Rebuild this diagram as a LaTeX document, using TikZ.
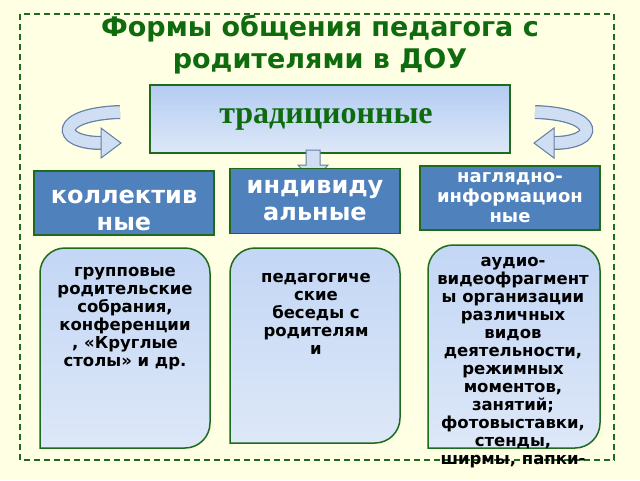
\documentclass[tikz,border=0pt]{standalone}
\usepackage{fontspec}
\setmainfont{DejaVu Sans}
\newfontfamily\serifb{Liberation Serif}
\usetikzlibrary{positioning}
\definecolor{bg}{HTML}{FFFFE3}
\definecolor{dgreen}{HTML}{1E6B1E}
\definecolor{tgreen}{HTML}{0E6B0E}
\definecolor{sblue}{HTML}{4F81BD}
\definecolor{lblue}{HTML}{B4CCF2}
\definecolor{pblue}{HTML}{DDE8F8}
\begin{document}
\begin{tikzpicture}[
    x=1pt, y=-1pt,
    topbox/.style={
        draw=dgreen, line width=1.5pt,
        top color=lblue, bottom color=pblue
    },
    catbox/.style={
        rectangle, draw=dgreen, line width=1.5pt, fill=sblue,
        text=white, font=\bfseries\fontsize{24}{27}\selectfont,
        align=center, inner sep=0pt
    },
    card/.style={
        draw=dgreen, line width=1.5pt,
        top color=lblue!80, bottom color=pblue
    },
    cardtext/.style={
        anchor=north, align=center,
        font=\bfseries\fontsize{16.5}{18}\selectfont
    },
    turnout/.style={line width=14pt, draw=sblue!60!gray, line cap=butt},
    turnin/.style={line width=11.5pt, draw=pblue!90!sblue, line cap=butt},
    arrhead/.style={draw=sblue!60!gray, line width=1pt, fill=pblue!90!sblue}
]
    % background and frame
    \fill[bg] (0,0) rectangle (640,480);
    \useasboundingbox (0,0) rectangle (640,480);
    \draw[dgreen, line width=1.5pt, dash pattern=on 6pt off 4pt] (20,14) rectangle (614,460);

    % title
    \node[text=tgreen, font=\bfseries\fontsize{27}{32}\selectfont, align=center]
        (title) at (320,45) {Формы общения педагога с\\родителями в ДОУ};

    % traditional forms
    \draw[topbox] (150,85) rectangle (510,153);
    \node[text=tgreen, font=\serifb\bfseries\fontsize{32}{34}\selectfont]
        (trad) at (326,119) {традиционные};

    % turning arrows
    \draw[turnout] (120,112) .. controls (55,114) and (55,143) .. (102,143);
    \draw[turnin] (120,112) .. controls (55,114) and (55,143) .. (102,143);
    \draw[arrhead] (101,128) -- (121,143) -- (101,158) -- cycle;
    \draw[turnout] (535,112) .. controls (600,114) and (600,143) .. (553,143);
    \draw[turnin] (535,112) .. controls (600,114) and (600,143) .. (553,143);
    \draw[arrhead] (554,128) -- (534,143) -- (554,158) -- cycle;

    % down arrow
    \draw[arrhead] (306,150) -- (320,150) -- (320,165) -- (328,165) -- (313,182)
        -- (298,165) -- (306,165) -- cycle;

    % categories
    \node[catbox, minimum width=180pt, minimum height=64pt] (coll) at (124,203) {};
    \node[text=white, font=\bfseries\fontsize{24}{27}\selectfont, align=center]
        (colltext) at (124,210) {коллектив\\ные};
    \node[catbox, minimum width=170pt, minimum height=65pt] (indiv) at (315,201)
        {индивиду\\альные};
    \node[catbox, minimum width=180pt, minimum height=64pt,
        font=\bfseries\fontsize{18}{20}\selectfont] (vis) at (510,198)
        {наглядно-\\информацион\\ные};

    % cards
    \draw[card] (40,448) -- (40,273) [rounded corners=25pt] -- (40,248) -- (210,248)
        [sharp corners] -- (210,423) [rounded corners=25pt] -- (210,448) [sharp corners] -- cycle;
    \draw[card] (230,443) -- (230,273) [rounded corners=25pt] -- (230,248) -- (400,248)
        [sharp corners] -- (400,418) [rounded corners=25pt] -- (400,443) [sharp corners] -- cycle;
    \draw[card] (428,448) -- (428,270) [rounded corners=25pt] -- (428,245) -- (600,245)
        [sharp corners] -- (600,423) [rounded corners=25pt] -- (600,448) [sharp corners] -- cycle;

    \node[cardtext] (grp) at (125,264)
        {групповые\\родительские\\собрания,\\конференции\\, «Круглые\\столы» и др.};
    \node[cardtext] (talk) at (316,270)
        {педагогиче\\ские\\беседы с\\родителям\\и};
    \node[cardtext] (av) at (513,254)
        {аудио-\\видеофрагмент\\ы организации\\различных\\видов\\деятельности,\\режимных\\моментов,\\занятий;\\фотовыставки,\\стенды,\\ширмы, папки-};
\end{tikzpicture}
\end{document}
